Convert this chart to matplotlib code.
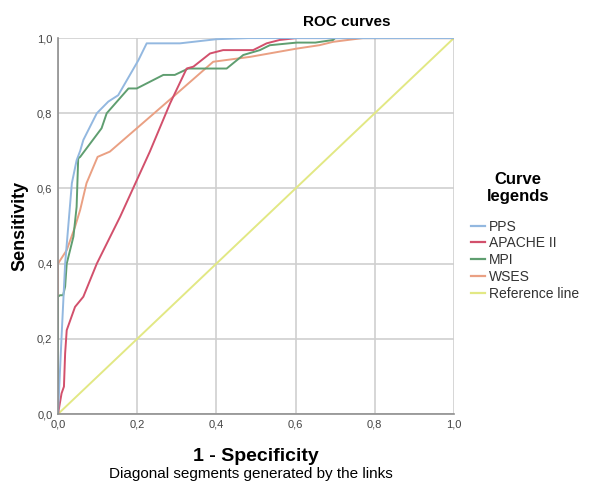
import matplotlib.pyplot as plt
from matplotlib.lines import Line2D

plt.rcParams['font.family'] = ['Liberation Sans', 'DejaVu Sans']

# Courbes ROC (1 - spécificité, sensibilité)
pps_x = [0.0, 0.009, 0.018, 0.030, 0.035, 0.047, 0.056, 0.064, 0.098, 0.127, 0.152, 0.203, 0.224, 0.308, 0.400, 0.480, 0.600, 1.0]
pps_y = [0.0, 0.206, 0.400, 0.551, 0.614, 0.675, 0.700, 0.729, 0.800, 0.831, 0.848, 0.941, 0.986, 0.986, 0.997, 1.0, 1.0, 1.0]

apache_x = [0.0, 0.009, 0.015, 0.018, 0.022, 0.043, 0.064, 0.098, 0.157, 0.232, 0.283, 0.325, 0.342, 0.384, 0.417, 0.493, 0.527, 0.560, 0.603, 1.0]
apache_y = [0.0, 0.055, 0.073, 0.161, 0.223, 0.285, 0.312, 0.400, 0.525, 0.698, 0.826, 0.919, 0.924, 0.959, 0.968, 0.968, 0.986, 0.995, 1.0, 1.0]

mpi_x = [0.0, 0.0, 0.005, 0.013, 0.018, 0.022, 0.039, 0.047, 0.051, 0.056, 0.110, 0.123, 0.178, 0.199, 0.266, 0.295, 0.329, 0.426, 0.468, 0.510, 0.535, 0.603, 0.650, 0.695, 0.700, 1.0]
mpi_y = [0.0, 0.312, 0.316, 0.316, 0.339, 0.400, 0.472, 0.551, 0.680, 0.684, 0.760, 0.800, 0.866, 0.866, 0.902, 0.902, 0.919, 0.919, 0.955, 0.968, 0.981, 0.988, 0.988, 0.995, 1.0, 1.0]

wses_x = [0.0, 0.0, 0.022, 0.043, 0.056, 0.072, 0.100, 0.131, 0.291, 0.392, 0.485, 0.603, 0.660, 0.695, 0.770, 1.0]
wses_y = [0.0, 0.400, 0.436, 0.498, 0.543, 0.614, 0.684, 0.698, 0.844, 0.937, 0.950, 0.972, 0.981, 0.990, 1.0, 1.0]

ref_x = [0.0, 1.0]
ref_y = [0.0, 1.0]

noms = ['PPS', 'APACHE II', 'MPI', 'WSES', 'Reference line']
couleurs = ['#93b8e0', '#d2506c', '#5f9e70', '#eaa083', '#e2e884']
ticks = [0.0, 0.2, 0.4, 0.6, 0.8, 1.0]
tick_labels = ['0,0', '0,2', '0,4', '0,6', '0,8', '1,0']

fig = plt.figure(figsize=(5.98, 4.82), dpi=100)
ax = fig.add_axes([0.097, 0.141, 0.662, 0.78])

series = [(pps_x, pps_y), (apache_x, apache_y), (mpi_x, mpi_y), (wses_x, wses_y), (ref_x, ref_y)]
for (xs, ys), c in zip(series[::-1], couleurs[::-1]):
    ax.plot(xs, ys, color=c, linewidth=1.4, solid_joinstyle='round')

ax.set_xlim(0, 1)
ax.set_ylim(0, 1)
ax.set_xticks(ticks)
ax.set_yticks(ticks)
ax.set_xticklabels(tick_labels, fontsize=8, color='#444444')
ax.set_yticklabels(tick_labels, fontsize=8, color='#444444')
ax.tick_params(length=0, pad=4)
ax.grid(True, color='#cfcfcf', linewidth=1.2)
ax.set_axisbelow(True)
for s in ['top', 'right']:
    ax.spines[s].set_visible(False)
for s in ['left', 'bottom']:
    ax.spines[s].set_color('#8f8f8f')
    ax.spines[s].set_linewidth(1.2)

ax.set_ylabel('Sensitivity', fontsize=13, fontweight='bold', labelpad=6)
ax.set_xlabel('1 - Specificity', fontsize=14, fontweight='bold', labelpad=13)
fig.text(0.42, 0.003, 'Diagonal segments generated by the links', fontsize=11, ha='center', va='bottom')
fig.text(0.58, 0.955, 'ROC curves', fontsize=11, fontweight='bold', ha='center', va='center')

# Légende à droite
fig.text(0.866, 0.61, 'Curve\nlegends', fontsize=12, fontweight='bold', ha='center', va='center', linespacing=1.1)
handles = [Line2D([0], [0], color=c, linewidth=1.6) for c in couleurs]
leg = fig.legend(handles, noms, loc='upper left', bbox_to_anchor=(0.778, 0.556), frameon=False,
                 fontsize=10, handlelength=1.0, handletextpad=0.3, labelspacing=0.2, borderaxespad=0)
for t in leg.get_texts():
    t.set_color('#333333')

fig.savefig('out.png', dpi=100)
